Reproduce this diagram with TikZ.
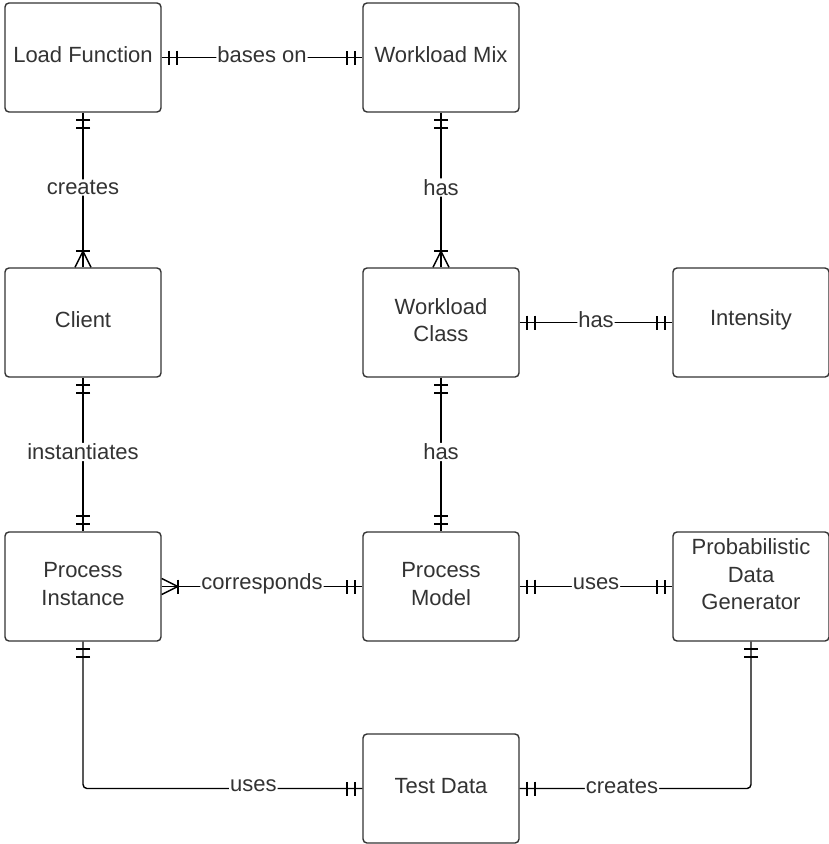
\documentclass[tikz,border=0pt]{standalone}
\usepackage{fontspec}
\setmainfont{Liberation Sans}
\usetikzlibrary{calc}
\definecolor{ink}{HTML}{333333}
\begin{document}
\begin{tikzpicture}[x=1pt,y=-1pt,
  entity/.style={draw=ink, line width=1.4pt, rounded corners=4pt,
    minimum width=156pt, minimum height=109pt, inner sep=0pt, fill=white},
  caption/.style={align=center, text=ink, font=\fontsize{22}{27.5}\selectfont,
    inner sep=0pt, yshift=2.5pt},
  rel/.style={draw=black, line width=1.4pt, rounded corners=4pt},
  lbl/.style={fill=white, text=ink, font=\fontsize{22}{26}\selectfont,
    inner sep=1pt, yshift=2.5pt},
  one/.pic={\draw[black, line width=2pt] (7,-7) -- (7,7) (15,-7) -- (15,7);},
  many/.pic={\draw[black, line width=2pt] (16,-7) -- (16,7);
             \draw[black, line width=1.4pt] (0,-8) -- (16,0) -- (0,8);}
]
\useasboundingbox (0,0) rectangle (829,844);

% entities (box plus centred caption)
\node[entity, label={[caption, name=lft]center:Load Function}] (lf) at (83,57.5) {};
\node[entity, label={[caption, name=wmt]center:Workload Mix}] (wm) at (441,57.5) {};
\node[entity, label={[caption, name=clt]center:Client}] (cl) at (83,322.5) {};
\node[entity, label={[caption, name=wct]center:Workload\\Class}] (wc) at (441,322.5) {};
\node[entity, label={[caption, name=int]center:Intensity}] (in) at (751,322.5) {};
\node[entity, label={[caption, name=pit]center:Process\\Instance}] (pi) at (83,586.5) {};
\node[entity, label={[caption, name=pmt]center:Process\\Model}] (pm) at (441,586.5) {};
\node[entity] (pdg) at (751,586.5) {};
\node[caption] (pdgt) at (751,577) {Probabilistic\\Data\\Generator};
\node[entity, label={[caption, name=tdt]center:Test Data}] (td) at (441,788.5) {};

% relationships
\draw[rel] (lf.east) -- node[lbl] (r1) {bases on} (wm.west);
\draw[rel] (lf.south) -- node[lbl] (r2) {creates} (cl.north);
\draw[rel] (wm.south) -- node[lbl] (r3) {has} (wc.north);
\draw[rel] (wc.east) -- node[lbl] (r4) {has} (in.west);
\draw[rel] (cl.south) -- node[lbl] (r5) {instantiates} (pi.north);
\draw[rel] (wc.south) -- node[lbl] (r6) {has} (pm.north);
\draw[rel] (pi.east) -- node[lbl] (r7) {corresponds} (pm.west);
\draw[rel] (pm.east) -- node[lbl] (r8) {uses} (pdg.west);
\draw[rel] (pi.south) |- node[lbl, pos=0.805] (r9) {uses} (td.west);
\draw[rel] (td.east) -| node[lbl, pos=0.221] (r10) {creates} (pdg.south);

% cardinality marks
\pic at (lf.east) {one};
\pic[rotate=180] at (wm.west) {one};
\pic[rotate=-90] at (lf.south) {one};
\pic[rotate=90] at (cl.north) {many};
\pic[rotate=-90] at (wm.south) {one};
\pic[rotate=90] at (wc.north) {many};
\pic at (wc.east) {one};
\pic[rotate=180] at (in.west) {one};
\pic[rotate=-90] at (cl.south) {one};
\pic[rotate=90] at (pi.north) {one};
\pic[rotate=-90] at (wc.south) {one};
\pic[rotate=90] at (pm.north) {one};
\pic at (pi.east) {many};
\pic[rotate=180] at (pm.west) {one};
\pic at (pm.east) {one};
\pic[rotate=180] at (pdg.west) {one};
\pic[rotate=-90] at (pi.south) {one};
\pic[rotate=180] at (td.west) {one};
\pic at (td.east) {one};
\pic[rotate=-90] at (pdg.south) {one};
\end{tikzpicture}
\end{document}
